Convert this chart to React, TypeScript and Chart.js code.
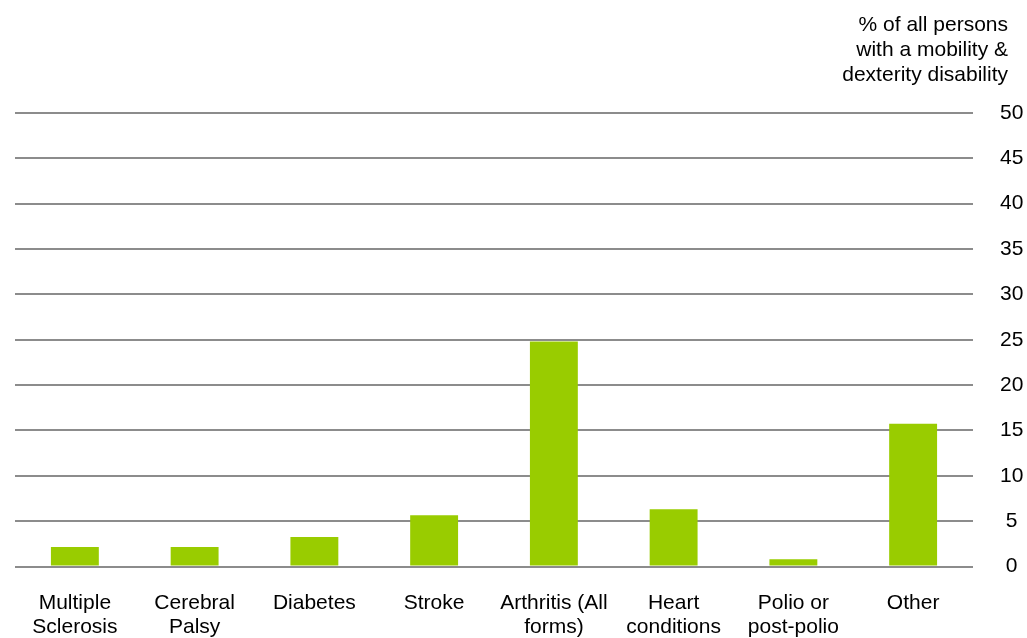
import React, { useEffect, useRef } from "react";
import { Chart, registerables } from "chart.js";

Chart.register(...registerables);

const categories: string[][] = [
  ["Multiple", "Sclerosis"],
  ["Cerebral", "Palsy"],
  ["Diabetes"],
  ["Stroke"],
  ["Arthritis (All", "forms)"],
  ["Heart", "conditions"],
  ["Polio or", "post-polio"],
  ["Other"],
];
const values: number[] = [2.15, 2.15, 3.25, 5.65, 24.8, 6.3, 0.8, 15.75];
const yTicksMin = 0;
const yTicksMax = 50;
const yTicksStep = 5;
const titleLines: string[] = ["% of all persons", "with a mobility &", "dexterity disability"];

const FONT = "'Liberation Sans', Arial, sans-serif";

export default function App() {
  const ref = useRef<HTMLCanvasElement | null>(null);
  useEffect(() => {
    if (!ref.current) return;
    const titlePlugin = {
      id: "cornerTitle",
      afterDraw(chart: any) {
        const ctx = chart.ctx;
        ctx.save();
        ctx.font = `21px ${FONT}`;
        ctx.fillStyle = "#000";
        ctx.textAlign = "right";
        ctx.textBaseline = "alphabetic";
        const baselines = [30.5, 55.5, 80.5];
        titleLines.forEach((t, i) => ctx.fillText(t, 1008, baselines[i]));
        ctx.restore();
      },
    };
    const chart = new Chart(ref.current, {
      type: "bar",
      data: {
        labels: categories,
        datasets: [
          {
            data: values,
            backgroundColor: "#99cc00",
            borderWidth: 0,
            categoryPercentage: 1,
            barPercentage: 0.4,
          },
        ],
      },
      options: {
        responsive: false,
        animation: false,
        layout: { padding: { left: 15, top: 113, right: 0, bottom: 0 } },
        plugins: { legend: { display: false }, tooltip: { enabled: false }, title: { display: false } },
        scales: {
          x: {
            grid: { display: false, drawTicks: false },
            border: { display: false },
            ticks: {
              font: { family: FONT, size: 21, lineHeight: "24px" },
              color: "#000",
              padding: 25,
              maxRotation: 0,
              autoSkip: false,
            },
            afterFit(scale: any) {
              scale.height = 71.5;
            },
          },
          y: {
            position: "right",
            min: yTicksMin,
            max: yTicksMax,
            grid: { color: "#8c8c8c", lineWidth: 2, drawTicks: false },
            border: { display: false },
            ticks: {
              stepSize: yTicksStep,
              font: { family: FONT, size: 21 },
              color: "#000",
              padding: 27,
              crossAlign: "center",
            },
            afterFit(scale: any) {
              scale.width = 54;
            },
          },
        },
      },
      plugins: [titlePlugin],
    } as any);
    return () => chart.destroy();
  }, []);
  return (
    <div style={{ position: "absolute", left: 0, top: 0, width: 1027, height: 638, background: "#fff" }}>
      <canvas ref={ref} width={1027} height={638} style={{ width: 1027, height: 638 }} />
    </div>
  );
}
